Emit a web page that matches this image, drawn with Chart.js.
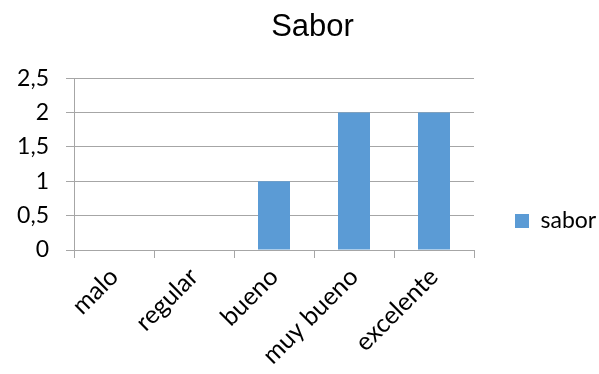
<!DOCTYPE html>
<html>
<head>
<meta charset="utf-8">
<script src="https://cdn.jsdelivr.net/npm/chart.js@4"></script>
<style>
  html, body { margin: 0; padding: 0; background: #fff; }
  #wrap { width: 599px; height: 374px; }
</style>
</head>
<body>
<div id="wrap"><canvas id="sabor-chart"></canvas></div>
<script>
const categories = ["malo", "regular", "bueno", "muy bueno", "excelente"]
const saborValues = [0, 0, 1, 2, 2]
const yTicks = [0, 0.5, 1, 1.5, 2, 2.5]

const fontFamily = "Lato, 'Open Sans', sans-serif"

// fixed legend column width, plus small nudges of the title and legend blocks
const blockPlacement = {
    id: "blockPlacement",
    beforeLayout(chart) {
        const legend = chart.legend
        if (legend && !legend._fixedWidth) {
            const fit = legend.fit
            legend.fit = function () {
                fit.call(this)
                this.width = 125
            }
            legend._fixedWidth = true
        }
    },
    afterLayout(chart) {
        const title = chart.titleBlock
        if (title) {
            title.left += 13
            title.right += 13
        }
        const legend = chart.legend
        if (legend) {
            legend.left -= 2
            legend.right -= 2
            legend.top += 34
            legend.bottom += 34
        }
    }
}

function LoadChart() {
    const chartElement = document.getElementById("sabor-chart")
    const chart = new Chart(chartElement, {
        type: "bar",
        data: {
            labels: categories,
            datasets: [{
                label: "sabor",
                data: saborValues,
                backgroundColor: "#5B9BD5",
                categoryPercentage: 1,
                barPercentage: 0.4
            }]
        },
        options: {
            responsive: true,
            maintainAspectRatio: false,
            animation: false,
            layout: { padding: 0 },
            plugins: {
                title: {
                    display: true,
                    text: "Sabor",
                    color: "#000",
                    font: { family: "'Liberation Sans', Arial, sans-serif", size: 31, weight: "normal" },
                    padding: { top: 9, bottom: 32 },
                    align: "center"
                },
                legend: {
                    position: "right",
                    labels: {
                        color: "#000",
                        boxWidth: 14,
                        boxHeight: 14,
                        padding: 43,
                        font: { family: fontFamily, size: 23 }
                    }
                },
                tooltip: { enabled: false }
            },
            scales: {
                x: {
                    offset: true,
                    grid: {
                        offset: true,
                        drawOnChartArea: false,
                        color: "#a6a6a6",
                        tickLength: 8
                    },
                    border: { color: "#a6a6a6" },
                    ticks: {
                        color: "#000",
                        maxRotation: 45,
                        minRotation: 45,
                        padding: 4,
                        font: { family: fontFamily, size: 25 }
                    },
                    afterFit: (scale) => { scale.height = 124 }
                },
                y: {
                    min: 0,
                    max: 2.5,
                    afterBuildTicks: (scale) => {
                        scale.ticks = yTicks.map((v) => ({ value: v }))
                    },
                    grid: {
                        color: "#a6a6a6",
                        tickLength: 8
                    },
                    border: { color: "#a6a6a6" },
                    ticks: {
                        color: "#000",
                        padding: 17,
                        font: { family: fontFamily, size: 23 },
                        callback: (value) => String(value).replace(".", ",")
                    },
                    afterFit: (scale) => { scale.width = 74 }
                }
            }
        },
        plugins: [blockPlacement]
    })
    return chart
}

LoadChart()
</script>
</body>
</html>
